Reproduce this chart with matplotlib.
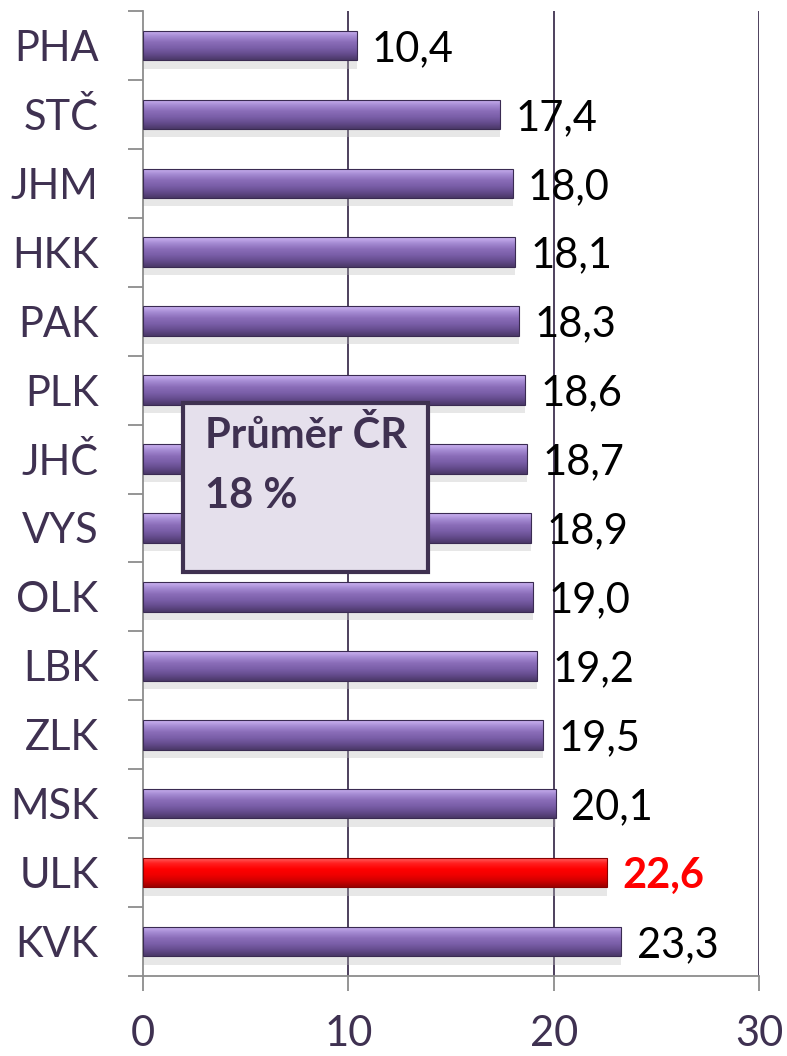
import matplotlib
matplotlib.use("Agg")
import matplotlib.pyplot as plt
from matplotlib.patches import Rectangle
import numpy as np

regions = ["PHA", "STČ", "JHM", "HKK", "PAK", "PLK", "JHČ", "VYS",
           "OLK", "LBK", "ZLK", "MSK", "ULK", "KVK"]
values = [10.4, 17.4, 18.0, 18.1, 18.3, 18.6, 18.7, 18.9,
          19.0, 19.2, 19.5, 20.1, 22.6, 23.3]
highlight = "ULK"
avg_text = "Průměr ČR\n18 %"
x_ticks = [0, 10, 20, 30]

dark = "#3f3151"
gray = "#8c8c8c"

plt.rcParams['font.family'] = ['Lato', 'DejaVu Sans']

fig = plt.figure(figsize=(7.87, 10.56), dpi=100)
ax = fig.add_axes([143 / 787, 1 - 976 / 1056, (759 - 143) / 787, (976 - 11) / 1056])

# gradient maps for the "3D" bar look (top light -> bottom dark)
purple_grad = matplotlib.colors.LinearSegmentedColormap.from_list(
    "pg", ["#cdb4f2", "#a58bd3", "#8a6db8", "#7a5ea8", "#654c8d", "#4a3868"])
red_grad = matplotlib.colors.LinearSegmentedColormap.from_list(
    "rg", ["#ff6a6a", "#ff2020", "#ff0000", "#f00000", "#d00000", "#9a0000"])
grad = np.linspace(0, 1, 64).reshape(-1, 1)

y = np.arange(len(regions))
h = 0.43

# soft shadow under the bars
ax.barh(y + h / 2 + 0.06, values, height=0.12, color="#bdbdbd", alpha=0.35,
        zorder=2, linewidth=0)

bars = ax.barh(y, values, height=h, color="none", edgecolor="none", zorder=3)
for b, r in zip(bars, regions):
    cmap = red_grad if r == highlight else purple_grad
    x0, yc = b.get_x(), b.get_y()
    im = ax.imshow(grad, cmap=cmap, aspect="auto", zorder=3,
                   extent=(x0, x0 + b.get_width(), yc + b.get_height(), yc),
                   origin="upper", interpolation="bilinear")
    im.set_clip_path(b)
    edge = "#8a0000" if r == highlight else "#3a2b52"
    ax.add_patch(Rectangle((x0, yc), b.get_width(), b.get_height(),
                           fill=False, edgecolor=edge, linewidth=0.8, zorder=4))

for i, (r, v) in enumerate(zip(regions, values)):
    lbl = f"{v:.1f}".replace(".", ",")
    if r == highlight:
        ax.text(v + 0.75, i + 0.05, lbl, color="#ff0000", fontsize=30,
                fontweight="bold", va="center", ha="left", zorder=6)
    else:
        ax.text(v + 0.75, i + 0.05, lbl, color="black", fontsize=30,
                va="center", ha="left", zorder=6)

ax.set_xlim(0, 30)
ax.set_ylim(len(regions) - 0.5, -0.5)

# vertical gridlines
for t in x_ticks[1:]:
    ax.axvline(t, color=dark, linewidth=1.3, zorder=1)

ax.set_xticks(x_ticks)
ax.set_xticklabels([str(t) for t in x_ticks])
ax.set_yticks(np.arange(len(regions) + 1) - 0.5)
ax.set_yticklabels([])
ax.set_yticks(y, minor=True)
ax.set_yticklabels(regions, minor=True)

ax.tick_params(axis="y", which="major", length=11, width=1.3, color=gray)
ax.tick_params(axis="y", which="minor", length=0, pad=32, labelsize=30,
               labelcolor=dark)
ax.tick_params(axis="x", length=11, width=1.3, color=gray, pad=17,
               labelsize=30, labelcolor=dark)

for s in ["top", "right"]:
    ax.spines[s].set_visible(False)
for s in ["left", "bottom"]:
    ax.spines[s].set_color(gray)
    ax.spines[s].set_linewidth(1.3)

# average box
ax.add_patch(Rectangle((1.95, 5.19), 11.95, 2.45, facecolor="#e5e0ec",
                       edgecolor=dark, linewidth=3, zorder=7))
ax.text(3.0, 5.38, avg_text, color=dark, fontsize=30, fontweight="bold",
        va="top", ha="left", linespacing=1.7, zorder=8)

fig.savefig("out.png", dpi=100)
